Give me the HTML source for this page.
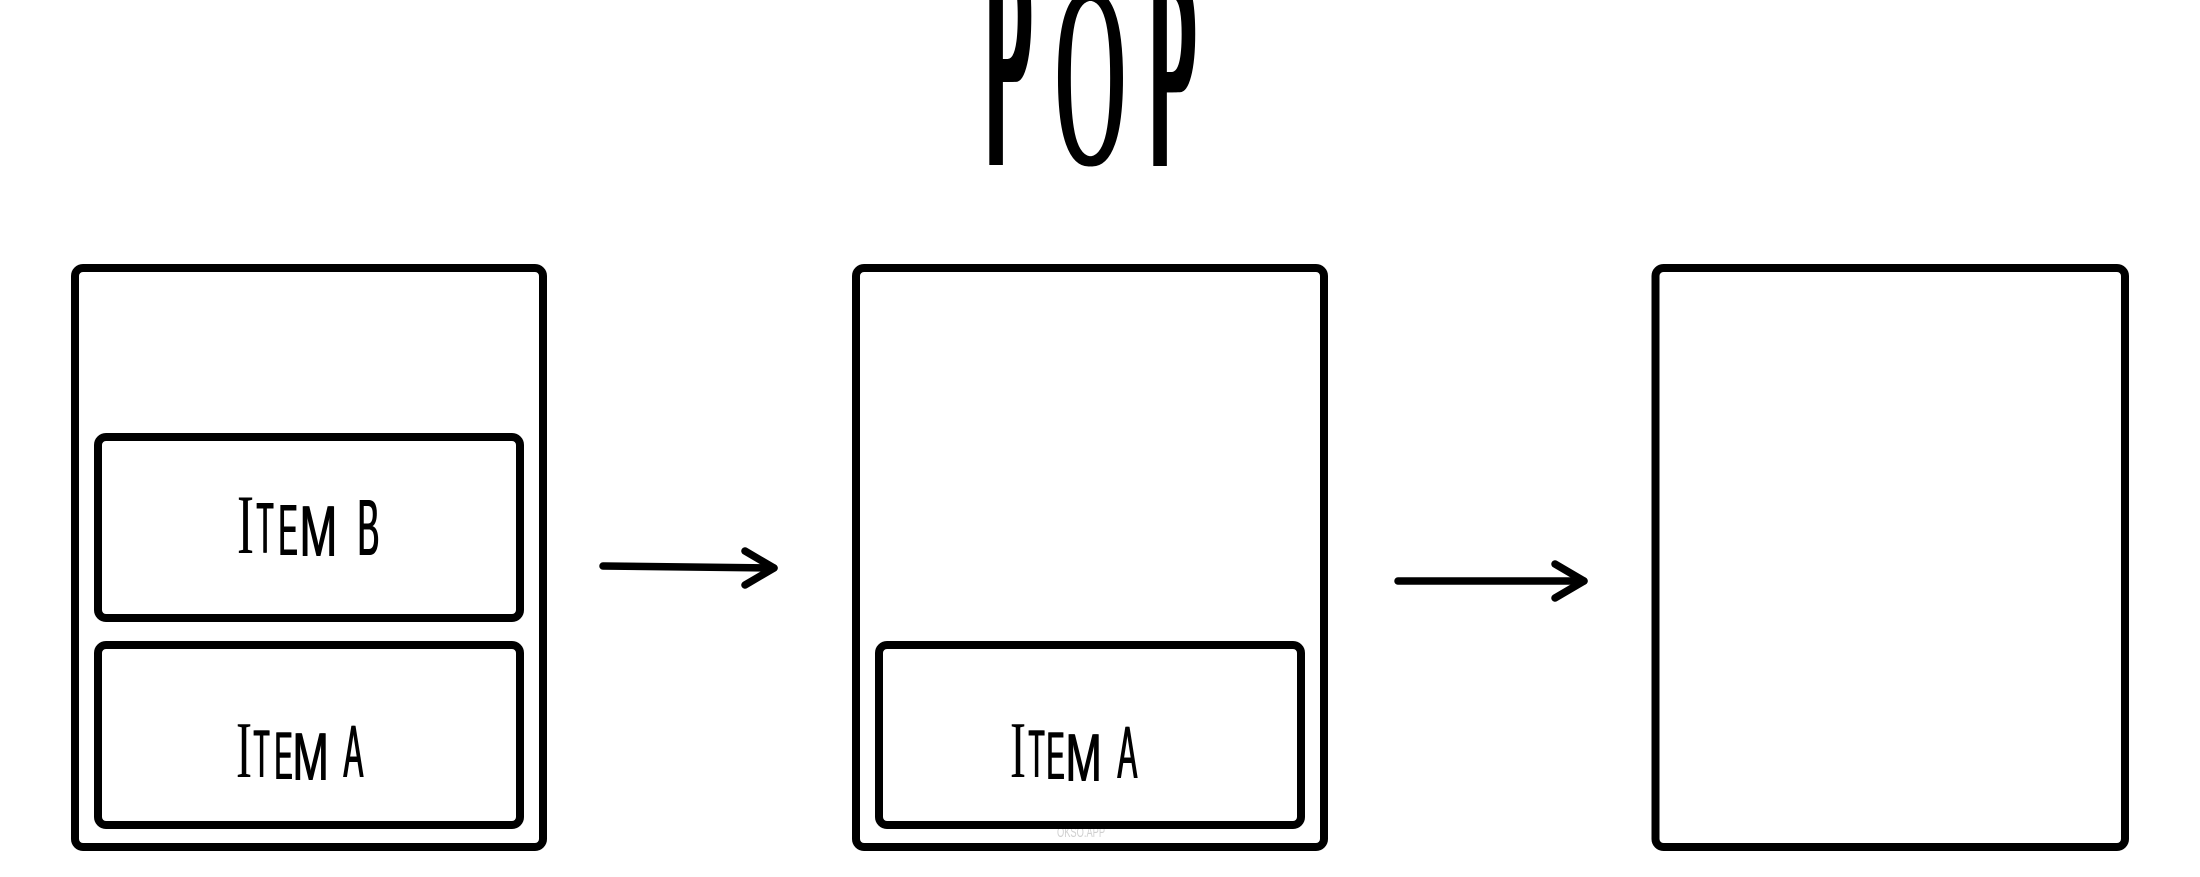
<!DOCTYPE html>
<html lang="en">
<head>
<meta charset="utf-8">
<title>POP</title>
<style>
  html, body { margin: 0; padding: 0; background: #fff; }
  #stage { position: relative; width: 2200px; height: 877px; overflow: hidden; background: #fff; }
  #stage svg { position: absolute; left: 0; top: 0; }
  .g { position: absolute; display: block; line-height: 1; color: #000; white-space: pre;
       transform-origin: 0 0;
       left: calc(var(--x) * 1px);
       top: calc(var(--b) * 1px - var(--k) * var(--f) * 1px);
       font-size: calc(var(--f) * 1px);
       transform: scaleX(var(--s)); }
  .sans { --k: .8465; font-family: "Liberation Sans", sans-serif; }
  .serif { --k: .8375; font-family: "Liberation Serif", serif; }
  .thin { text-shadow: 2.5px 0 0 #000; }
  .thinm { text-shadow: 1.5px 0 0 #000; }
  .bigp { text-shadow: 18px 0 0 #000, 36px 0 0 #000; }
  .bigp2 { text-shadow: 16px 0 0 #000, 32px 0 0 #000; }
  .bigo { text-shadow: 8px 0 0 #000; }
  #watermark { position: absolute; left: 1057px; top: 825px; font: 15px/1 "Liberation Sans", sans-serif;
       color: #d0d0d0; transform-origin: 0 0; transform: scaleX(.62); white-space: pre; }
</style>
</head>
<body>
<div id="stage">
  <div id="watermark">OKSO.APP</div>

  <svg width="2200" height="877" viewBox="0 0 2200 877">
    <g fill="none" stroke="#000" stroke-width="8">
      <rect x="75" y="268" width="468" height="579" rx="8"/>
      <rect x="98" y="437" width="422" height="181" rx="8"/>
      <rect x="98" y="645" width="422" height="180" rx="8"/>
      <rect x="856" y="268" width="468" height="579" rx="8"/>
      <rect x="879" y="645" width="422" height="180" rx="8"/>
      <rect x="1655.5" y="268" width="469.5" height="579" rx="8"/>
    </g>
    <g fill="none" stroke="#000" stroke-width="7.5" stroke-linecap="round" stroke-linejoin="round">
      <path d="M603 566 L774 568"/>
      <path d="M745 551 L774 568 L745 585"/>
    </g>
    <g fill="none" stroke="#000" stroke-width="7.5" stroke-linecap="round" stroke-linejoin="round">
      <path d="M1398 581 L1584 581"/>
      <path d="M1555 564 L1584 581 L1555 598"/>
    </g>
  </svg>

  <div><span class="g sans bigp" style="--x:984;--b:165;--f:310;--s:.209">P</span><span class="g serif bigo" style="--x:1054;--b:164;--f:262;--s:.37">O</span><span class="g sans bigp2" style="--x:1148;--b:167;--f:275;--s:.235">P</span></div>

  <div><span class="g serif" style="--x:237;--b:554;--f:85;--s:.6">I</span><span class="g sans thin" style="--x:255.5;--b:554;--f:72;--s:.39">T</span><span class="g sans thin" style="--x:277.7;--b:556;--f:72;--s:.4">E</span><span class="g sans thinm" style="--x:299;--b:557;--f:72;--s:.63">M</span> <span class="g sans thin" style="--x:357.4;--b:556;--f:80;--s:.41">B</span></div>

  <div><span class="g serif" style="--x:236;--b:778;--f:80;--s:.6">I</span><span class="g sans thin" style="--x:252.5;--b:778;--f:68;--s:.39">T</span><span class="g sans thin" style="--x:273.8;--b:780;--f:68;--s:.4">E</span><span class="g sans thinm" style="--x:292;--b:781;--f:68;--s:.64">M</span> <span class="g sans thin" style="--x:343;--b:778;--f:74;--s:.4">A</span></div>

  <div><span class="g serif" style="--x:1010;--b:778;--f:80;--s:.6">I</span><span class="g sans thin" style="--x:1027.5;--b:778;--f:68;--s:.39">T</span><span class="g sans thin" style="--x:1045.8;--b:780;--f:68;--s:.4">E</span><span class="g sans thinm" style="--x:1065;--b:782;--f:68;--s:.64">M</span> <span class="g sans thin" style="--x:1117;--b:779;--f:74;--s:.4">A</span></div>
</div>
</body>
</html>
